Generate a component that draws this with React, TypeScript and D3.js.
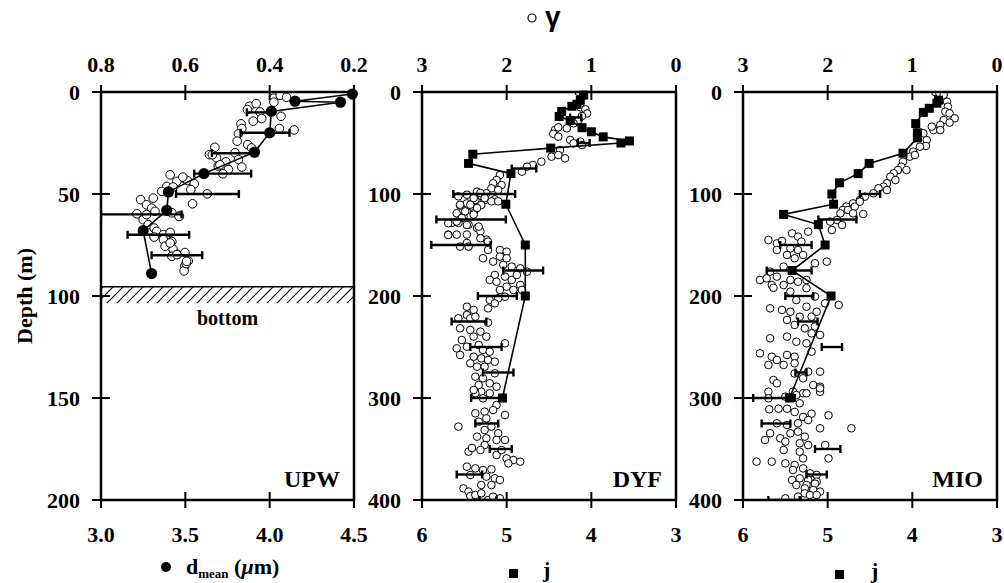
import React from 'react';
import * as d3 from 'd3';

const W = 1004;
const H = 583;

// ---------------- UPW ----------------
const upwTopTicks = [0.8, 0.6, 0.4, 0.2];
const upwBottomTicks = [3.0, 3.5, 4.0, 4.5];
const upwDepthTicks = [0, 50, 100, 150, 200];
const upwMeanDepth = [1, 4.5, 5, 9.5, 20, 29.5, 40, 49, 58, 68, 89];
const upwMean = [4.49, 4.15, 4.42, 4.01, 4.0, 3.91, 3.61, 3.4, 3.39, 3.25, 3.3];
const upwErrDepth = [10, 20, 30, 40, 50, 60, 70, 80];
const upwErrLo = [0.454, 0.469, 0.537, 0.579, 0.622, 0.8, 0.737, 0.68];
const upwErrHi = [0.399, 0.353, 0.435, 0.444, 0.473, 0.609, 0.591, 0.56];
const upwGamma: [number, number][] = [
  [3, 0.39], [1.6, 0.375], [2.6, 0.36], [5, 0.39], [7, 0.448], [5.7, 0.432], [8.6, 0.453], [9.8, 0.423],
  [14.3, 0.439], [13, 0.419], [11.9, 0.373], [15.6, 0.468], [17.9, 0.466], [20.5, 0.474], [24.1, 0.477],
  [17.9, 0.377], [18.6, 0.342], [25.8, 0.452], [27.4, 0.443], [27.1, 0.53], [30.7, 0.543], [32.3, 0.526],
  [29.8, 0.482], [33.1, 0.474], [34.2, 0.504], [36.8, 0.466], [36.3, 0.522], [38, 0.498], [40.1, 0.511],
  [42.1, 0.605], [43.4, 0.595], [45, 0.579], [47.8, 0.587], [49.9, 0.548], [54.8, 0.583], [59.2, 0.632],
  [60.8, 0.614], [73.3, 0.632], [77.1, 0.629], [79.6, 0.619], [78.7, 0.601], [82.8, 0.593], [85.2, 0.601],
  [87.7, 0.603], [84.1, 0.598], [30.8, 0.536], [35.7, 0.518], [40.6, 0.636], [43.8, 0.62], [41.7, 0.606],
  [46.3, 0.644], [48.7, 0.656], [46.6, 0.629], [52.8, 0.706], [55.3, 0.692], [52, 0.676], [56.9, 0.68],
  [59.7, 0.715], [62.6, 0.7], [60.1, 0.692], [58.5, 0.672], [61, 0.615], [65, 0.688], [66.7, 0.674],
  [68.3, 0.668], [71.1, 0.674], [69.9, 0.652], [68.8, 0.636], [72.4, 0.652], [75.6, 0.648], [74, 0.636],
  [80.5, 0.632], [79.7, 0.62], [83, 0.597],
];
const upwBottomLayer = [95.5, 103.5];

// ---------------- DYF ----------------
const deepTopTicks = [3, 2, 1, 0];
const deepBottomTicks = [6, 5, 4, 3];
const deepDepthTicks = [0, 100, 200, 300, 400];
const dyfJDepth = [3, 8, 12, 14, 19, 24, 28, 35, 39, 44, 48, 50, 55, 61, 70, 80, 110, 150, 200, 300];
const dyfJ = [4.09, 4.13, 4.17, 4.23, 4.35, 4.38, 4.25, 4.11, 4.0, 3.86, 3.55, 3.65, 4.48, 5.4, 5.45, 4.95, 5.01, 4.78, 4.78, 5.05];
const dyfErrDepth = [25, 50, 75, 100, 125, 150, 175, 200, 225, 250, 275, 300, 325, 350, 375, 400];
const dyfErrLo = [1.25, 1.16, 1.94, 2.63, 2.83, 2.89, 2.04, 2.34, 2.65, 2.43, 2.28, 2.42, 2.37, 2.2, 2.59, 2.32];
const dyfErrHi = [1.12, 1.02, 1.65, 1.9, 2.01, 2.19, 1.57, 1.88, 2.24, 2.06, 1.92, 2.07, 2.1, 1.94, 2.29, 2.12];
const dyfGamma: [number, number][] = [
  [0, 1.15], [3, 1.1], [15, 1.13], [17, 1.07], [21, 1.05], [23.5, 1.11], [27.5, 1.15], [30.7, 1.21],
  [37.3, 1.43], [34.6, 1.39], [41, 1.45], [43.8, 1.39], [35.6, 1.29], [47, 1.25], [48.6, 1.13], [52, 1.11],
  [50.3, 1.21], [56.9, 1.37], [63.4, 1.47], [61.8, 1.39], [65, 1.31], [68.3, 1.59], [71.6, 1.69], [73.2, 1.76],
  [78.1, 1.82], [81.4, 2.08], [86.3, 2.12], [89.5, 2.16], [91.2, 2.06], [94.4, 2.18], [96.1, 2.1], [99.3, 2.24],
  [102, 2.3], [97.7, 2.35], [105.9, 2.37], [105.9, 2.26], [105.2, 2.14], [109.2, 2.47], [111.4, 2.55],
  [112.4, 2.41], [110.8, 2.3], [118.9, 2.59], [118.9, 2.39], [122.2, 2.51], [102.3, 2.57], [100.7, 2.47],
  [104, 2.39], [99, 2.31], [104, 2.26], [107.2, 2.18], [107.2, 2.1], [110.5, 2.55], [110.5, 2.43],
  [113.7, 2.35], [117, 2.49], [120.2, 2.39], [123.5, 2.53], [128.4, 2.65], [128.4, 2.57], [130, 2.45],
  [133.3, 2.35], [139.8, 2.69], [139.8, 2.59], [139.8, 2.47], [136.6, 2.31], [144.7, 2.24], [148, 2.47],
  [128.7, 2.69], [127, 2.59], [130.4, 2.47], [132, 2.33], [140.2, 2.69], [151.6, 2.55], [151.6, 2.45],
  [143.4, 2.31], [146.7, 2.22], [154.9, 2.22], [154.9, 2.08], [156.5, 2.0], [163, 2.28], [166.3, 2.16],
  [161.4, 2.08], [163, 2.0], [169.5, 2.04], [171.2, 1.94], [172.9, 1.84], [176.1, 1.76], [179.4, 2.14],
  [184.3, 2.2], [186, 2.12], [181, 2.02], [184.3, 1.94], [179.4, 1.88], [189.2, 1.84], [190.8, 2.0],
  [194.1, 2.08], [194.1, 1.92], [194.1, 1.82], [200.7, 2.02], [202.3, 2.1], [203.9, 2.2], [207.2, 2.14],
  [212.1, 2.22], [210.5, 2.47], [213.7, 2.39], [218.6, 2.47], [221.9, 2.57], [221.9, 2.43], [220.3, 2.37],
  [226.1, 2.22], [231.6, 2.55], [233.3, 2.43], [234.9, 2.31], [239.8, 2.24], [243.1, 2.53], [239.8, 2.39],
  [251.3, 2.59], [249.7, 2.47], [248, 2.33], [252.9, 2.28], [254.6, 2.2], [246.4, 2.02], [257.8, 2.55],
  [259.5, 2.39], [261.1, 2.3], [262.7, 2.22], [266, 2.43], [269.3, 2.35], [264.4, 2.14], [269.3, 2.26],
  [279.1, 2.37], [280.7, 2.28], [275.8, 2.14], [285.6, 2.2], [287.3, 2.33], [288.9, 2.12], [293.8, 2.3],
  [295.4, 2.2], [295.4, 2.37], [292.2, 2.39], [300.3, 2.28], [306.9, 2.12], [315, 2.37], [313.4, 2.26],
  [311.8, 2.16], [316.7, 2.02], [320, 2.24], [323.2, 2.33], [328.1, 2.57], [331.4, 2.26], [328.1, 2.18],
  [334.6, 2.1], [337.9, 2.35], [339.5, 2.24], [341.2, 2.12], [341.2, 2.02], [346.1, 2.26], [351, 2.31],
  [352.6, 2.45], [349, 2.41], [355.9, 2.12], [351, 2.06], [359.2, 2.0], [360.8, 1.92], [362.4, 1.84],
  [364.1, 1.98], [367.3, 2.47], [369, 2.37], [370.6, 2.28], [369.9, 2.18], [375.5, 2.43], [377.1, 2.24],
  [378.8, 2.14], [380.4, 2.08], [385.3, 2.3], [385.3, 2.18], [388.6, 2.51], [391.8, 2.45], [396.1, 2.43],
  [395.1, 2.37], [393.5, 2.3], [400, 2.22], [396.7, 2.16], [398.4, 2.08],
];

// ---------------- MIO ----------------
const mioJDepth = [8, 11, 16, 20, 31, 40, 45, 60, 70, 80, 89, 100, 110, 120, 130, 150, 175, 200, 300];
const mioJ = [3.69, 3.71, 3.8, 3.87, 3.96, 3.94, 3.94, 4.11, 4.51, 4.64, 4.86, 4.95, 4.93, 5.52, 5.11, 5.03, 5.42, 4.96, 5.45];
const mioErrDepth = [100, 125, 150, 175, 200, 225, 250, 275, 300, 325, 350, 375, 400];
const mioErrLo = [1.62, 2.11, 2.56, 2.72, 2.5, 2.35, 2.07, 2.38, 2.88, 2.78, 2.15, 2.25, 2.7];
const mioErrHi = [1.38, 1.66, 2.19, 2.19, 2.17, 2.12, 1.83, 2.25, 2.39, 2.44, 1.85, 2.01, 2.33];
const mioGamma: [number, number][] = [
  [0, 0.73], [1.3, 0.68], [2.9, 0.63], [9.5, 0.59], [14.4, 0.58], [19.3, 0.61], [20.9, 0.56], [25.8, 0.5],
  [27.5, 0.63], [30, 0.56], [32.4, 0.67], [37.3, 0.75], [37.3, 0.67], [34, 0.77], [40.5, 0.87], [47.1, 0.83],
  [52.9, 0.84], [53.6, 0.91], [58.5, 0.99], [63.4, 1.03], [61.8, 0.97], [68.3, 1.11], [73.2, 1.13],
  [76.5, 1.17], [76.5, 1.07], [79.7, 1.22], [83, 1.26], [86.3, 1.2], [89.5, 1.3], [92.8, 1.34], [94.4, 1.4],
  [96.1, 1.3], [99.3, 1.46], [102.6, 1.56], [105.9, 1.62], [109.2, 1.7], [112.4, 1.78], [112.4, 1.68],
  [115.7, 1.82], [119, 1.85], [119.6, 1.58], [107.5, 1.62], [115.7, 1.76], [119, 1.7], [125.5, 1.89],
  [130.4, 1.83], [127.1, 1.97], [135.3, 1.95], [136.9, 2.23], [138.6, 2.42], [141.8, 2.35], [146.7, 2.31],
  [145.1, 2.7], [148.4, 2.6], [146, 2.54], [153.3, 2.44], [154.9, 2.35], [154.9, 2.6], [159.8, 2.48],
  [163, 2.39], [159.8, 2.29], [167.9, 2.15], [166.3, 2.01], [171.2, 2.52], [176.1, 2.68], [184.3, 2.8],
  [182.7, 2.72], [181, 2.6], [184.3, 2.44], [186, 2.35], [184.3, 2.25], [189.2, 2.52], [189.2, 2.66],
  [192, 2.64], [195.7, 2.44], [204, 2.37], [192.4, 2.25], [200.6, 2.15], [207.2, 2.03], [208.8, 1.87],
  [210.5, 2.25], [215.4, 2.44], [213.7, 2.54], [212.1, 2.68], [220.3, 2.33], [220.3, 2.19], [215.4, 2.13],
  [223.5, 2.48], [228.4, 2.39], [231.7, 2.27], [230, 2.15], [236.6, 2.19], [238.2, 2.09], [241.5, 2.68],
  [239.8, 2.48], [244.8, 2.37], [246.4, 2.25], [254.6, 2.19], [256.2, 2.8], [259.5, 2.66], [262.7, 2.6],
  [257.8, 2.48], [259.5, 2.39], [267.6, 2.7], [267.6, 2.52], [266, 2.39], [274.2, 2.23], [274.2, 2.09],
  [276, 2.39], [280.7, 2.29], [282.4, 2.64], [285.6, 2.6], [287.3, 2.17], [288.9, 2.09], [293.8, 2.41],
  [295.4, 2.29], [293.8, 2.7], [294, 2.09], [290.5, 2.09], [297.1, 2.37], [295.4, 2.25], [300.3, 2.7],
  [298.7, 2.5], [305.2, 2.33], [311.1, 2.69], [310.5, 2.58], [310.5, 2.48], [313.7, 2.39], [318.6, 2.29],
  [315.4, 2.19], [317, 1.99], [324.8, 2.6], [326.5, 2.48], [324.8, 2.35], [321.6, 2.23], [329.7, 2.09],
  [329.7, 1.72], [334.6, 2.68], [341.2, 2.74], [339.5, 2.56], [334.6, 2.44], [333, 2.35], [337.9, 2.27],
  [342.8, 2.5], [344.4, 2.33], [346.1, 2.23], [346.1, 2.03], [351, 2.52], [352.6, 2.33], [359.2, 1.99],
  [362.4, 2.84], [362.4, 2.66], [364.1, 2.5], [365.7, 2.39], [359.2, 2.29], [370.6, 2.41], [369, 2.29],
  [373.9, 2.21], [375.5, 2.13], [380.4, 2.42], [378.8, 2.33], [380.4, 2.23], [382, 2.13], [385.3, 2.37],
  [385.3, 2.25], [384, 2.15], [388.6, 2.27], [390.2, 2.17], [391.8, 2.09], [393.5, 2.27], [396.7, 2.35],
  [395.1, 2.21], [398.4, 2.5], [395.1, 2.13],
];

const SERIF = '"Liberation Serif", "Times New Roman", serif';
const Y0 = 92;
const Y1 = 500;

type PanelProps = {
  x0: number;
  x1: number;
  depthMax: number;
  depthTicks: number[];
  topDomain: [number, number];
  topTicks: number[];
  bottomDomain: [number, number];
  bottomTicks: number[];
  fmt: (v: number) => string;
  label: string;
  gamma: [number, number][];
  meanDepth: number[];
  mean: number[];
  meanShape: 'circle' | 'square';
  errDepth: number[];
  errLo: number[];
  errHi: number[];
  bottomLayer?: number[];
  clipId: string;
};

function Panel(p: PanelProps) {
  const y = d3.scaleLinear().domain([0, p.depthMax]).range([Y0, Y1]);
  const xt = d3.scaleLinear().domain(p.topDomain).range([p.x0, p.x1]);
  const xb = d3.scaleLinear().domain(p.bottomDomain).range([p.x0, p.x1]);
  const line = d3
    .line<number>()
    .x((_, i) => xb(p.mean[i]))
    .y((d) => y(d));
  return (
    <g>
      <defs>
        <clipPath id={p.clipId}>
          <rect x={p.x0} y={Y0} width={p.x1 - p.x0} height={Y1 - Y0} />
        </clipPath>
      </defs>
      {p.bottomLayer && (
        <g>
          <rect
            x={p.x0}
            y={y(p.bottomLayer[0])}
            width={p.x1 - p.x0}
            height={y(p.bottomLayer[1]) - y(p.bottomLayer[0])}
            fill="url(#hatch)"
          />
          <line x1={p.x0} x2={p.x1} y1={y(p.bottomLayer[0])} y2={y(p.bottomLayer[0])} stroke="#000" strokeWidth={1.5} />
          <text
            x={(p.x0 + p.x1) / 2}
            y={y(p.bottomLayer[1]) + 22}
            textAnchor="middle"
            fontFamily={SERIF}
            fontWeight="bold"
            fontSize={20}
          >
            bottom
          </text>
        </g>
      )}
      <g clipPath={`url(#${p.clipId})`}>
        {p.gamma.map(([d, g], i) => (
          <circle key={i} cx={xt(g)} cy={y(d)} r={p.meanShape === 'circle' ? 4.3 : 3.8} fill="#fff" stroke="#000" strokeWidth={1} />
        ))}
        {p.errDepth.map((d, i) => (
          <g key={'e' + i} stroke="#000" strokeWidth={2.4}>
            <line x1={xt(p.errLo[i])} x2={xt(p.errHi[i])} y1={y(d)} y2={y(d)} />
            <line x1={xt(p.errLo[i])} x2={xt(p.errLo[i])} y1={y(d) - 4} y2={y(d) + 4} />
            <line x1={xt(p.errHi[i])} x2={xt(p.errHi[i])} y1={y(d) - 4} y2={y(d) + 4} />
          </g>
        ))}
      </g>
      <path d={line(p.meanDepth) || ''} fill="none" stroke="#000" strokeWidth={1.6} />
      {p.meanDepth.map((d, i) =>
        p.meanShape === 'circle' ? (
          <circle key={'m' + i} cx={xb(p.mean[i])} cy={y(d)} r={5.6} fill="#000" />
        ) : (
          <rect key={'m' + i} x={xb(p.mean[i]) - 4.5} y={y(d) - 4.5} width={9} height={9} fill="#000" />
        )
      )}
      <rect x={p.x0} y={Y0} width={p.x1 - p.x0} height={Y1 - Y0} fill="none" stroke="#000" strokeWidth={2.5} />
      {p.depthTicks.map((d) => (
        <g key={'d' + d}>
          <line x1={p.x0 - 9} x2={p.x0 + 9} y1={y(d)} y2={y(d)} stroke="#000" strokeWidth={2} />
          <text x={p.x0 - 21} y={y(d)} dy="0.35em" textAnchor="end" fontFamily={SERIF} fontWeight="bold" fontSize={22}>
            {d}
          </text>
        </g>
      ))}
      {p.topTicks.map((t) => (
        <g key={'t' + t}>
          <line x1={xt(t)} x2={xt(t)} y1={Y0 - 7} y2={Y0 + 8} stroke="#000" strokeWidth={2} />
          <text x={xt(t)} y={Y0 - 20} textAnchor="middle" fontFamily={SERIF} fontWeight="bold" fontSize={22}>
            {p.fmt(t)}
          </text>
        </g>
      ))}
      {p.bottomTicks.map((t) => (
        <g key={'b' + t}>
          <line x1={xb(t)} x2={xb(t)} y1={Y1 - 8} y2={Y1 + 8} stroke="#000" strokeWidth={2} />
          <text x={xb(t)} y={Y1 + 42} textAnchor="middle" fontFamily={SERIF} fontWeight="bold" fontSize={22}>
            {p.fmt(t)}
          </text>
        </g>
      ))}
      <text x={p.x1 - 14} y={Y1 - 13} textAnchor="end" fontFamily={SERIF} fontWeight="bold" fontSize={24}>
        {p.label}
      </text>
    </g>
  );
}

export default function App() {
  const f1 = (v: number) => v.toFixed(1);
  const f0 = (v: number) => String(v);
  return (
    <svg width={W} height={H} style={{ position: 'absolute', left: 0, top: 0, background: '#fff' }}>
      <defs>
        <pattern id="hatch" patternUnits="userSpaceOnUse" width={10} height={10}>
          <path d="M-2,2 L2,-2 M0,10 L10,0 M8,12 L12,8" stroke="#000" strokeWidth={1.1} />
        </pattern>
      </defs>
      <rect x={0} y={0} width={W} height={H} fill="#fff" />
      {/* title */}
      <circle cx={532} cy={18} r={4} fill="#fff" stroke="#000" strokeWidth={1.2} />
      <text x={545} y={26} fontFamily='"Liberation Sans", Arial, sans-serif' fontWeight="bold" fontSize={28}>
        γ
      </text>
      <text
        transform="translate(24,296) rotate(-90)"
        textAnchor="middle"
        dy="0.35em"
        fontFamily={SERIF}
        fontWeight="bold"
        fontSize={22}
      >
        Depth (m)
      </text>
      <Panel
        x0={101}
        x1={354}
        depthMax={200}
        depthTicks={upwDepthTicks}
        topDomain={[0.8, 0.2]}
        topTicks={upwTopTicks}
        bottomDomain={[3.0, 4.5]}
        bottomTicks={upwBottomTicks}
        fmt={f1}
        label="UPW"
        gamma={upwGamma}
        meanDepth={upwMeanDepth}
        mean={upwMean}
        meanShape="circle"
        errDepth={upwErrDepth}
        errLo={upwErrLo}
        errHi={upwErrHi}
        bottomLayer={upwBottomLayer}
        clipId="c1"
      />
      <Panel
        x0={422}
        x1={676}
        depthMax={400}
        depthTicks={deepDepthTicks}
        topDomain={[3, 0]}
        topTicks={deepTopTicks}
        bottomDomain={[6, 3]}
        bottomTicks={deepBottomTicks}
        fmt={f0}
        label="DYF"
        gamma={dyfGamma}
        meanDepth={dyfJDepth}
        mean={dyfJ}
        meanShape="square"
        errDepth={dyfErrDepth}
        errLo={dyfErrLo}
        errHi={dyfErrHi}
        clipId="c2"
      />
      <Panel
        x0={743}
        x1={997}
        depthMax={400}
        depthTicks={deepDepthTicks}
        topDomain={[3, 0]}
        topTicks={deepTopTicks}
        bottomDomain={[6, 3]}
        bottomTicks={deepBottomTicks}
        fmt={f0}
        label="MIO"
        gamma={mioGamma}
        meanDepth={mioJDepth}
        mean={mioJ}
        meanShape="square"
        errDepth={mioErrDepth}
        errLo={mioErrLo}
        errHi={mioErrHi}
        clipId="c3"
      />
      {/* legends */}
      <circle cx={166} cy={567} r={5} fill="#000" />
      <text x={186} y={574} fontFamily={SERIF} fontWeight="bold" fontSize={22}>
        d
        <tspan fontSize={13} dy={4}>mean</tspan>
        <tspan dy={-4}> (</tspan>
        <tspan fontStyle="italic">μ</tspan>
        <tspan>m)</tspan>
      </text>
      <rect x={509} y={569} width={9} height={9} fill="#000" />
      <text x={543} y={577} fontFamily={SERIF} fontWeight="bold" fontSize={22}>j</text>
      <rect x={835} y={570} width={9} height={9} fill="#000" />
      <text x={871} y={578} fontFamily={SERIF} fontWeight="bold" fontSize={22}>j</text>
    </svg>
  );
}
